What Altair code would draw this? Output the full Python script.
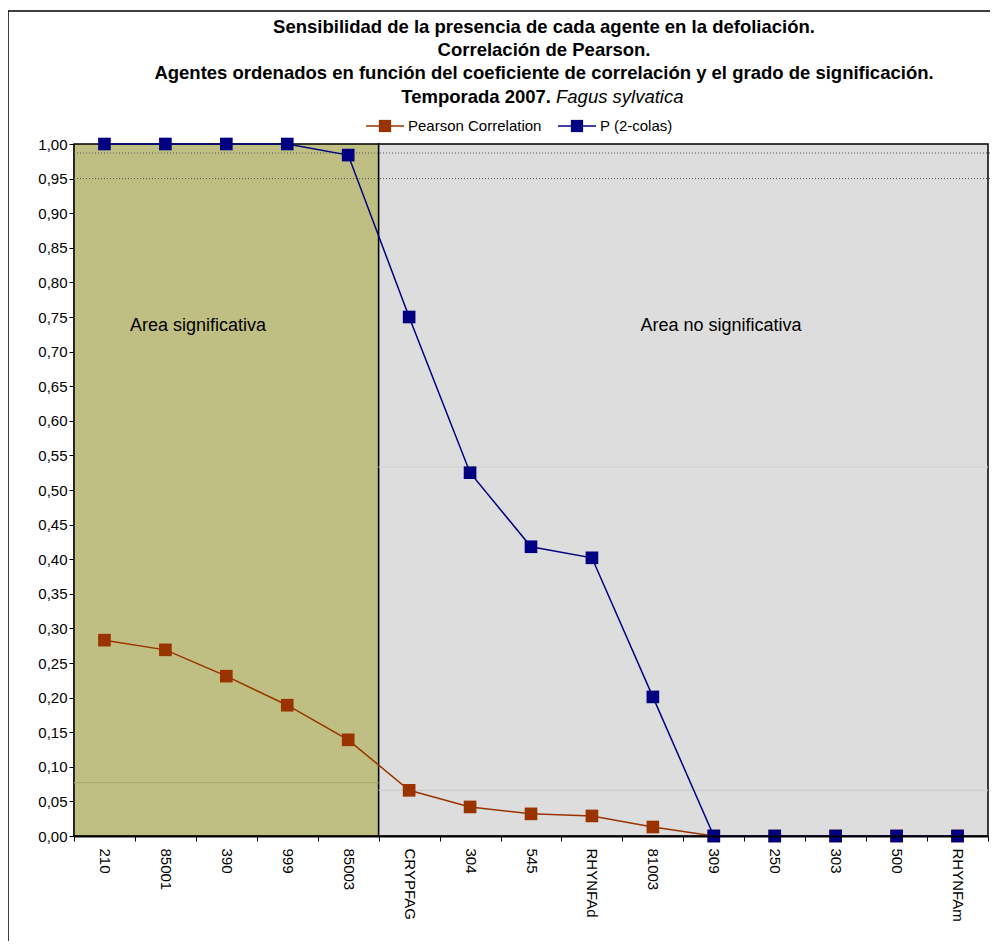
import altair as alt
import pandas as pd

categories = ["210", "85001", "390", "999", "85003", "CRYPFAG", "304", "545",
              "RHYNFAd", "81003", "309", "250", "303", "500", "RHYNFAm"]
pearson = [0.283, 0.269, 0.231, 0.189, 0.139, 0.066, 0.042, 0.032, 0.029, 0.013,
           0.0, 0.0, 0.0, 0.0, 0.0]
p_two = [1.0, 1.0, 1.0, 1.0, 0.984, 0.75, 0.525, 0.418, 0.402, 0.201,
         0.0, 0.0, 0.0, 0.0, 0.0]
y_ticks = [round(i * 0.05, 2) for i in range(21)]

region_start = ["210", "CRYPFAG"]
region_end = ["85003", "RHYNFAm"]
region_color = ["#BFBF83", "#DDDDDD"]
region_label = ["Area significativa", "Area no significativa"]
region_label_cat = ["210", "81003"]
region_label_dx = [56, 18]
region_label_y = 0.737

# faint horizontal lines inside the regions
faint_start = ["210", "CRYPFAG", "CRYPFAG"]
faint_end = ["85003", "RHYNFAm", "RHYNFAm"]
faint_y = [0.077, 0.066, 0.533]
faint_color = ["#ABAB6C", "#CBCBCB", "#D2D2D2"]

# dotted reference lines
ref_y = [0.987, 0.95]

W, H = 914, 692
FONT = "Liberation Sans"

df = pd.DataFrame({"cat": categories, "pearson": pearson, "p": p_two})
reg = pd.DataFrame({"start": region_start, "end": region_end, "color": region_color})
lab = pd.DataFrame({"cat": region_label_cat, "text": region_label,
                    "dx": region_label_dx, "y": [region_label_y] * 2})
faint = pd.DataFrame({"start": faint_start, "end": faint_end, "y": faint_y, "color": faint_color})
refs = pd.DataFrame({"y": ref_y})

xscale = alt.Scale(domain=categories, paddingInner=0, paddingOuter=0)
yscale = alt.Scale(domain=[0, 1], nice=False)

xaxis = alt.Axis(title=None, labelAngle=90, labelAlign="left", labelBaseline="middle",
                 labelFont=FONT, labelFontSize=15, labelColor="black", labelPadding=7,
                 labelOverlap=False,
                 tickBand="extent", tickSize=5, tickColor="black", domainColor="black",
                 domainWidth=2, grid=False)
yaxis = alt.Axis(title=None, values=y_ticks,
                 labelExpr="replace(format(datum.value, '.2f'), '.', ',')",
                 labelFont=FONT, labelFontSize=15, labelColor="black", labelPadding=2,
                 labelOverlap=False, labelFlush=False,
                 tickSize=5, tickColor="black", domainColor="black", domainWidth=2,
                 grid=False)


def yenc(field):
    return alt.Y(field, scale=yscale, axis=yaxis)


base_x = alt.X("cat:N", scale=xscale, axis=xaxis, sort=categories)

bg = alt.Chart(reg).mark_rect(stroke="black", strokeWidth=1.5).encode(
    x=alt.X("start:N", scale=xscale, axis=xaxis, sort=categories, bandPosition=0),
    x2=alt.X2("end", bandPosition=1),
    y=alt.datum(1, scale=yscale, axis=yaxis),
    y2=alt.datum(0),
    fill=alt.Fill("color:N", scale=None),
)

faint_lines = alt.Chart(faint).mark_rule(strokeWidth=1.2).encode(
    x=alt.X("start:N", scale=xscale, axis=xaxis, sort=categories, bandPosition=0),
    x2=alt.X2("end", bandPosition=1),
    y=yenc("y:Q"),
    color=alt.Color("color:N", scale=None),
)

dotted = alt.Chart(refs).mark_rule(color="#555555", strokeDash=[1, 2], strokeWidth=1).encode(
    x=alt.value(0), x2=alt.value(W + 4),
    y=yenc("y:Q"),
)

pear_line = alt.Chart(df).mark_line(color="#993300", strokeWidth=1.5).encode(
    x=base_x, y=yenc("pearson:Q"))
pear_pts = alt.Chart(df).mark_point(shape="square", filled=True, size=160, opacity=1,
                                    color="#993300").encode(
    x=base_x, y=yenc("pearson:Q"))
p_line = alt.Chart(df).mark_line(color="#000080", strokeWidth=1.5).encode(
    x=base_x, y=yenc("p:Q"))
p_pts = alt.Chart(df).mark_point(shape="square", filled=True, size=160, opacity=1,
                                 color="#000080").encode(
    x=base_x, y=yenc("p:Q"))

region_text = alt.Chart(lab).mark_text(font=FONT, fontSize=18, align="left",
                                       baseline="middle", color="black").encode(
    x=alt.X("cat:N", scale=xscale, axis=xaxis, sort=categories),
    y=yenc("y:Q"),
    xOffset=alt.XOffset("dx:Q", scale=None),
    text="text:N",
)

# title lines (page coordinates shifted by the plot origin at 74,144)
cx = 470
TFS = 18.5
title_lines = [
    ("Sensibilidad de la presencia de cada agente en la defoliación.", -117),
    ("Correlación de Pearson.", -94),
    ("Agentes ordenados en función del coeficiente de correlación y el grado de significación.", -71),
]
title_layers = []
for txt, ty in title_lines:
    title_layers.append(
        alt.Chart(pd.DataFrame({"t": [txt]})).mark_text(
            font=FONT, fontSize=TFS, fontWeight="bold", align="center", baseline="middle",
            color="black").encode(x=alt.value(cx), y=alt.value(ty), text="t:N"))
title_layers.append(
    alt.Chart(pd.DataFrame({"t": ["Temporada 2007."]})).mark_text(
        font=FONT, fontSize=TFS, fontWeight="bold", align="right", baseline="middle",
        color="black").encode(x=alt.value(477), y=alt.value(-47), text="t:N"))
title_layers.append(
    alt.Chart(pd.DataFrame({"t": ["Fagus sylvatica"]})).mark_text(
        font=FONT, fontSize=TFS, fontStyle="italic", align="left", baseline="middle",
        color="black").encode(x=alt.value(482), y=alt.value(-47), text="t:N"))

# legend
legend_names = ["Pearson Correlation", "P (2-colas)"]
legend_colors = ["#993300", "#000080"]
legend_x = [292, 484]
legend_layers = []
for name, col, lx in zip(legend_names, legend_colors, legend_x):
    one = pd.DataFrame({"t": [name]})
    legend_layers.append(alt.Chart(one).mark_rule(color=col, strokeWidth=1.5).encode(
        x=alt.value(lx), x2=alt.value(lx + 38), y=alt.value(-18)))
    legend_layers.append(alt.Chart(one).mark_point(shape="square", filled=True, size=150,
                                                   opacity=1, color=col).encode(
        x=alt.value(lx + 19), y=alt.value(-18)))
    legend_layers.append(alt.Chart(one).mark_text(font=FONT, fontSize=15, align="left",
                                                  baseline="middle", color="black").encode(
        x=alt.value(lx + 42), y=alt.value(-18), text="t:N"))

border = alt.Chart(pd.DataFrame({"a": [0]})).mark_rect(fill=None, stroke="black",
                                                        strokeWidth=1.5).encode(
    x=alt.value(-66), x2=alt.value(W + 60), y=alt.value(-133), y2=alt.value(H + 140))

chart = alt.layer(bg, faint_lines, dotted, pear_line, pear_pts, p_line, p_pts,
                  region_text, *title_layers, *legend_layers, border).properties(
    width=W, height=H,
    autosize=alt.AutoSizeParams(type="none"),
    padding={"left": 66, "top": 136, "right": 2, "bottom": 105},
    background="white",
).configure_view(stroke=None).configure_axisY(
    values=y_ticks, labelOverlap=False
)

chart.save("out.html", embed_options={"renderer": "svg", "actions": False})
